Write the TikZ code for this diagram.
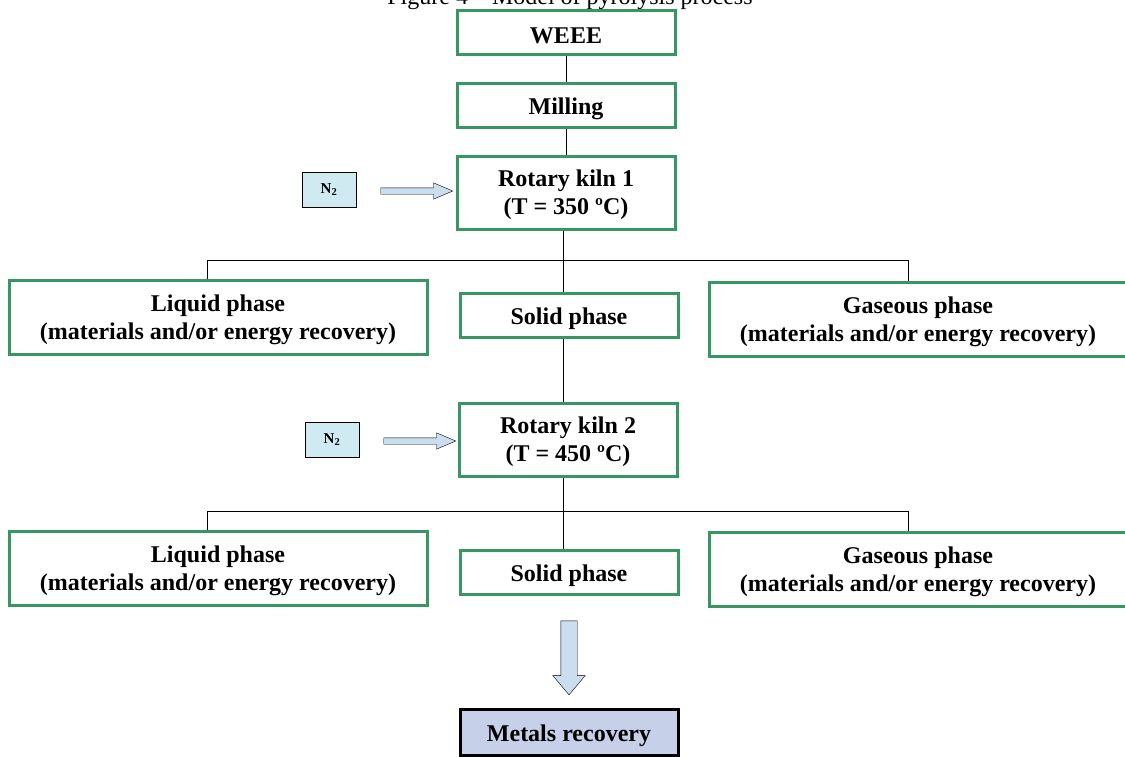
\documentclass[tikz,border=0pt]{standalone}
\usepackage{fontspec}
\setmainfont{Liberation Serif}
\usetikzlibrary{shapes.arrows}
\definecolor{boxgreen}{RGB}{56,150,98}
\definecolor{gasblue}{RGB}{208,234,242}
\definecolor{arrblue}{RGB}{202,222,240}
\definecolor{metblue}{RGB}{198,208,232}

\begin{document}
\begin{tikzpicture}[x=1pt, y=-1pt, every node/.style={font=\fontsize{24}{28}\selectfont\bfseries, align=center}]
  \useasboundingbox (0,0) rectangle (1125,756);
  \tikzstyle{stage}=[draw=boxgreen, line width=3pt, inner sep=2pt, minimum width=218pt, minimum height=44pt, execute at begin node={\rule{0pt}{24pt}}]
  \tikzstyle{kiln}=[stage, minimum height=73pt, text depth=-7pt]
  \tikzstyle{phase}=[stage, minimum width=418pt, minimum height=74pt, text depth=-7pt]
  \tikzstyle{gas}=[draw, fill=gasblue, inner sep=1pt, minimum width=54pt, minimum height=35pt, font=\fontsize{15}{17}\selectfont\bfseries]
  \tikzstyle{feed}=[single arrow, draw, fill=arrblue, inner sep=3pt, minimum width=16pt, minimum height=72pt, single arrow head extend=5pt, single arrow tip angle=46]
  \node[font=\fontsize{24}{28}\selectfont, anchor=base] (title) at (570,4) {Figure 4 -- Model of pyrolysis process};
  \node[stage] (weee)  at (566,32)    {WEEE};
  \node[stage] (mill)  at (566,105)   {Milling};
  \node[kiln]  (kiln1) at (566,192.5) {Rotary kiln 1\\(T = 350 ºC)};
  \node[gas]   (n2a)   at (329,190)   {N\textsubscript{2}};
  \node[feed]  (fa)    at (413,191)   {};
  \node[phase] (liq1)  at (218,317.5) {Liquid phase\\(materials and/or energy recovery)};
  \node[stage] (sol1)  at (569,315)   {Solid phase};
  \node[phase] (gas1)  at (918,319)   {Gaseous phase\\(materials and/or energy recovery)};
  \node[kiln]  (kiln2) at (568,439.5) {Rotary kiln 2\\(T = 450 ºC)};
  \node[gas]   (n2b)   at (332,439.5) {N\textsubscript{2}};
  \node[feed]  (fb)    at (416,441)   {};
  \node[phase] (liq2)  at (218,568.5) {Liquid phase\\(materials and/or energy recovery)};
  \node[stage] (sol2)  at (569,572.5) {Solid phase};
  \node[phase] (gas2)  at (918,569.5) {Gaseous phase\\(materials and/or energy recovery)};
  \node[single arrow, draw, fill=arrblue, shape border rotate=270, inner sep=8pt, minimum width=32pt, minimum height=74pt, single arrow head extend=8pt, single arrow tip angle=80] (down) at (569,653) {};
  \node[stage, draw=black, fill=metblue, minimum height=46pt] (metal) at (569,732) {Metals recovery};
  \coordinate (a1) at (207,260); \coordinate (c1) at (908,260);
  \coordinate (a2) at (207,511); \coordinate (c2) at (908,511);
  \draw (weee) -- (mill); \draw (mill) -- (kiln1);
  \draw (kiln1.south -| 563,0) -- (sol1.north -| 563,0);
  \draw (a1 |- liq1.north) -- (a1) -- (c1) -- (c1 |- gas1.north);
  \draw (sol1.south -| 563,0) -- (kiln2.north -| 563,0);
  \draw (kiln2.south -| 563,0) -- (sol2.north -| 563,0);
  \draw (a2 |- liq2.north) -- (a2) -- (c2) -- (c2 |- gas2.north);
\end{tikzpicture}
\end{document}
